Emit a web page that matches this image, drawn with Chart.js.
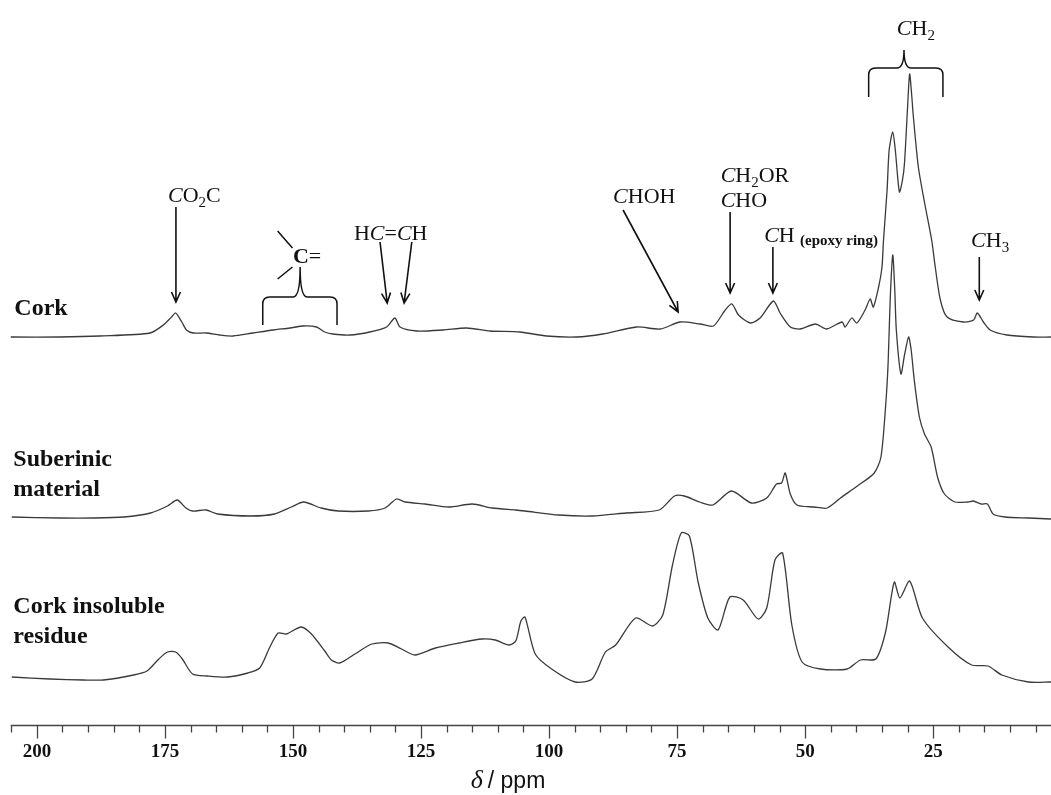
<!DOCTYPE html>
<html lang="en">
<head>
<meta charset="UTF-8">
<title>13C NMR spectra of cork</title>
<script src="https://cdn.jsdelivr.net/npm/chart.js"></script>
<style>
  body { margin: 0; background: #fff; }
  #wrap { width: 1051px; height: 795px; }
</style>
</head>
<body>
<div id="wrap"><canvas id="nmr" width="1051" height="795"></canvas></div>
<script>
// chemical shift (ppm) / intensity pairs
const corkPpm = [205.1, 195.5, 187.7, 177.9, 175.3, 173.7, 172.9, 171.7, 170.8, 169.5, 166.9, 164.3, 161.7, 157.8, 153.9, 150.6, 148.0, 145.4, 143.8, 142.2, 138.9, 135.0, 131.7, 130.1, 129.1, 125.8, 120.7, 116.1, 111.5, 105.7, 100.5, 94.6, 89.5, 82.9, 78.3, 74.4, 70.5, 67.9, 65.6, 64.3, 63.0, 60.7, 58.8, 56.2, 54.9, 52.9, 51.0, 48.0, 45.8, 42.8, 42.2, 40.9, 39.9, 38.3, 37.3, 36.7, 35.7, 35.0, 34.7, 34.0, 33.6, 32.9, 32.4, 31.6, 31.0, 30.6, 30.0, 29.6, 29.2, 28.9, 27.9, 26.6, 25.3, 24.6, 23.6, 22.3, 19.1, 17.1, 16.4, 15.2, 13.9, 10.6, 5.5, 2.0];
const corkInt = [0, 0, 1, 4, 12, 20, 24, 15, 7, 4, 4, 2, 1, 4, 7, 9, 11, 10, 5, 3, 2, 5, 10, 19, 10, 6, 7, 9, 6, 5, 1, 0, 3, 10, 8, 15, 13, 11, 27, 33, 22, 14, 19, 36, 24, 10, 8, 13, 8, 15, 10, 19, 14, 27, 38, 30, 49, 70, 97, 147, 187, 205, 187, 145, 157, 174, 230, 263, 242, 222, 170, 132, 97, 70, 37, 20, 15, 17, 24, 15, 7, 2, 0, 0];

const subPpm = [204.9, 195.5, 188.9, 183.0, 177.8, 174.5, 172.6, 170.9, 169.6, 167.0, 164.7, 158.2, 153.6, 150.3, 147.9, 144.5, 141.2, 135.3, 132.0, 129.8, 128.1, 124.2, 119.6, 115.0, 111.1, 106.5, 104.7, 98.1, 91.6, 85.0, 78.5, 75.5, 73.6, 70.6, 68.0, 64.4, 60.5, 57.5, 55.6, 54.6, 53.9, 52.9, 51.6, 48.3, 45.7, 43.1, 39.8, 36.5, 35.2, 34.3, 33.8, 33.4, 32.9, 32.5, 32.2, 31.3, 30.6, 29.8, 29.3, 28.7, 27.7, 26.7, 25.4, 24.1, 22.8, 20.8, 18.2, 17.2, 15.6, 14.4, 13.3, 11.0, 6.4, 2.0];
const subInt = [0, -1, -1, 0, 4, 11, 17, 9, 6, 7, 3, 1, 3, 10, 15, 9, 6, 6, 9, 18, 15, 13, 10, 13, 9, 7, 6, 2, 1, 4, 7, 21, 21, 15, 12, 26, 14, 19, 33, 34, 44, 23, 12, 10, 9, 19, 31, 44, 60, 110, 154, 217, 262, 227, 187, 143, 162, 180, 167, 137, 100, 83, 70, 39, 23, 15, 15, 16, 13, 13, 3, 0, -1, -2];

const resPpm = [204.9, 197.4, 190.9, 187.0, 181.1, 178.5, 176.2, 174.5, 172.9, 171.6, 169.6, 166.7, 162.8, 158.8, 156.5, 154.6, 152.9, 151.3, 148.4, 146.4, 143.8, 142.5, 140.9, 137.9, 134.6, 131.4, 128.8, 126.2, 122.2, 117.6, 113.1, 110.5, 107.8, 106.5, 105.5, 104.7, 102.7, 99.5, 94.9, 91.6, 89.0, 87.0, 83.1, 79.8, 77.8, 75.9, 74.2, 72.6, 70.9, 69.0, 67.0, 64.7, 62.1, 59.2, 57.5, 55.9, 54.4, 52.6, 50.6, 47.0, 41.8, 39.2, 36.2, 34.3, 32.6, 31.5, 29.6, 27.1, 22.1, 17.5, 14.3, 11.6, 6.4, 2.0];
const resInt = [1, -1, -2, -2, 3, 7, 19, 26, 26, 19, 4, 2, 1, 5, 10, 30, 45, 44, 51, 44, 27, 18, 15, 24, 34, 35, 29, 23, 30, 35, 39, 38, 33, 37, 57, 61, 24, 9, -4, -1, 26, 33, 60, 52, 63, 113, 145, 142, 96, 60, 48, 81, 78, 59, 70, 118, 125, 53, 16, 9, 9, 18, 19, 46, 96, 80, 97, 60, 31, 13, 12, 3, -4, -4];

const majorTicks = [200, 175, 150, 125, 100, 75, 50, 25];
const minorTicks = [205, 195, 190, 185, 180, 170, 165, 160, 155, 145, 140, 135, 130, 120, 115, 110, 105, 95, 90, 85, 80, 70, 65, 60, 55, 45, 40, 35, 30, 20, 15, 10, 5];

// vertical stacking of the three spectra
const offsets = { cork: 385, sub: 205, res: 44 };

function toPoints(ppm, ints, off) {
  return ppm.map((p, i) => ({ x: p, y: ints[i] + off }));
}

const SERIF = '"Liberation Serif", "Times New Roman", serif';
const SANS = '"Liberation Sans", Arial, sans-serif';

// peak assignments: text parts, anchor (ppm, y value)
const labels = [
  { parts: [{ t: 'C', i: 1 }, { t: 'O' }, { t: '2', sub: 1 }, { t: 'C' }], ppm: 174.4, v: 520 },
  { parts: [{ t: 'H' }, { t: 'C', i: 1 }, { t: '=' }, { t: 'C', i: 1 }, { t: 'H' }], ppm: 138.1, v: 482 },
  { parts: [{ t: 'C', i: 1 }, { t: 'HOH' }], ppm: 87.5, v: 519 },
  { parts: [{ t: 'C', i: 1 }, { t: 'H' }, { t: '2', sub: 1 }, { t: 'OR' }], ppm: 66.5, v: 540 },
  { parts: [{ t: 'C', i: 1 }, { t: 'HO' }], ppm: 66.5, v: 515 },
  { parts: [{ t: 'C', i: 1 }, { t: 'H' }], ppm: 58.0, v: 480 },
  { parts: [{ t: '(epoxy ring)', b: 1, small: 1 }], ppm: 51.0, v: 477 },
  { parts: [{ t: 'C', i: 1 }, { t: 'H' }, { t: '2', sub: 1 }], ppm: 32.1, v: 687 },
  { parts: [{ t: 'C', i: 1 }, { t: 'H' }, { t: '3', sub: 1 }], ppm: 17.6, v: 475 },
  { parts: [{ t: 'C', b: 1 }, { t: '=' }], ppm: 150.0, v: 459 }
];
const arrows = [
  [172.85, 515, 172.85, 420],
  [133.0, 480, 131.6, 419],
  [126.8, 480, 128.3, 419],
  [85.55, 512, 74.8, 410],
  [64.65, 510, 64.65, 429],
  [56.3, 475, 56.3, 429],
  [16.0, 465, 16.0, 422]
];
// braces: left ppm, right ppm, middle ppm, leg bottom, bar, cusp top
const braces = [
  [155.9, 141.4, 148.6, 397, 425, 455],
  [37.6, 23.1, 30.7, 625, 654, 672]
];
const samples = [
  { text: ['Cork'], ppm: 204.4, v: 407 },
  { text: ['Suberinic', 'material'], ppm: 204.6, v: 256 },
  { text: ['Cork insoluble', 'residue'], ppm: 204.6, v: 109 }
];

function rich(ctx, parts, px, py) {
  let cx = px;
  parts.forEach(p => {
    const size = p.sub ? 15 : (p.small ? 15 : 22);
    ctx.font = (p.i ? 'italic ' : '') + (p.b ? 'bold ' : '') + size + 'px ' + SERIF;
    ctx.fillText(p.t, cx, py + (p.sub ? 5 : 0));
    cx += ctx.measureText(p.t).width;
  });
}

const decor = {
  id: 'decor',
  afterDatasetsDraw(chart) {
    const { ctx, scales: { x, y } } = chart;
    const X = v => x.getPixelForValue(v);
    const Y = v => y.getPixelForValue(v);
    ctx.save();

    // axis line and ticks
    const y0 = Math.round(y.bottom) + 0.5;
    ctx.strokeStyle = '#444';
    ctx.lineWidth = 1.3;
    ctx.beginPath();
    ctx.moveTo(X(205.1), y0);
    ctx.lineTo(x.right, y0);
    minorTicks.concat(majorTicks).forEach(v => {
      const px = Math.round(X(v)) + 0.5;
      ctx.moveTo(px, y0);
      ctx.lineTo(px, y0 + (majorTicks.includes(v) ? 13 : 7));
    });
    ctx.stroke();

    // axis title: italic delta, then "/ ppm"
    ctx.fillStyle = '#111';
    ctx.textBaseline = 'alphabetic';
    const tx = X(115.3), ty = y0 + 62;
    ctx.font = 'italic 26px ' + SERIF;
    ctx.fillText('δ', tx, ty);
    const dw = ctx.measureText('δ').width;
    ctx.font = '23px ' + SANS;
    ctx.fillText('/ ppm', tx + dw + 5, ty);

    // arrows
    ctx.strokeStyle = '#111';
    ctx.lineWidth = 1.6;
    arrows.forEach(([p1, v1, p2, v2]) => {
      const x1 = X(p1), y1 = Y(v1), x2 = X(p2), y2 = Y(v2);
      const a = Math.atan2(y2 - y1, x2 - x1);
      ctx.beginPath();
      ctx.moveTo(x1, y1);
      ctx.lineTo(x2, y2);
      ctx.moveTo(x2 - 11 * Math.cos(a - 0.42), y2 - 11 * Math.sin(a - 0.42));
      ctx.lineTo(x2, y2);
      ctx.lineTo(x2 - 11 * Math.cos(a + 0.42), y2 - 11 * Math.sin(a + 0.42));
      ctx.stroke();
    });

    // braces
    ctx.lineWidth = 1.5;
    braces.forEach(([pl, pr, pm, vb, vbar, vc]) => {
      const l = X(pl), r = X(pr), m = X(pm), b = Y(vb), t = Y(vbar), c = Y(vc);
      const k = 7;
      ctx.beginPath();
      ctx.moveTo(l, b);
      ctx.lineTo(l, t + k);
      ctx.quadraticCurveTo(l, t, l + k, t);
      ctx.lineTo(m - k, t);
      ctx.quadraticCurveTo(m, t, m, c);
      ctx.quadraticCurveTo(m, t, m + k, t);
      ctx.lineTo(r - k, t);
      ctx.quadraticCurveTo(r, t, r, t + k);
      ctx.lineTo(r, b);
      ctx.stroke();
    });
    // the two bonds drawn on the C= group
    ctx.beginPath();
    ctx.moveTo(X(153.0), Y(491));
    ctx.lineTo(X(150.1), Y(474));
    ctx.moveTo(X(150.1), Y(455));
    ctx.lineTo(X(153.0), Y(443));
    ctx.stroke();

    // assignment text
    labels.forEach(l => rich(ctx, l.parts, X(l.ppm), Y(l.v)));

    // sample names
    ctx.font = 'bold 24px ' + SERIF;
    samples.forEach(s => {
      s.text.forEach((line, i) => ctx.fillText(line, X(s.ppm), Y(s.v) + i * 30));
    });
    ctx.restore();
  }
};

const lineStyle = { borderColor: '#3a3a3a', borderWidth: 1.3, pointRadius: 0, tension: 0.25, fill: false };

new Chart(document.getElementById('nmr'), {
  type: 'line',
  data: {
    datasets: [
      Object.assign({ label: 'Cork', data: toPoints(corkPpm, corkInt, offsets.cork) }, lineStyle),
      Object.assign({ label: 'Suberinic material', data: toPoints(subPpm, subInt, offsets.sub) }, lineStyle),
      Object.assign({ label: 'Cork insoluble residue', data: toPoints(resPpm, resInt, offsets.res) }, lineStyle)
    ]
  },
  options: {
    responsive: false,
    animation: false,
    layout: { padding: 0 },
    plugins: { legend: { display: false }, tooltip: { enabled: false } },
    scales: {
      x: {
        type: 'linear',
        reverse: true,
        min: 2,
        max: 207.2,
        border: { display: false },
        grid: { display: false, drawTicks: false },
        afterBuildTicks: s => { s.ticks = majorTicks.map(v => ({ value: v })); },
        afterFit: s => { s.height = 70; },
        ticks: {
          padding: 16,
          maxRotation: 0,
          color: '#111',
          font: { family: '"Liberation Serif", "Times New Roman", serif', size: 19, weight: 'bold' }
        },
        title: { display: false }
      },
      y: { display: false, min: -3, max: 722 }
    }
  },
  plugins: [decor]
});
</script>
</body>
</html>
